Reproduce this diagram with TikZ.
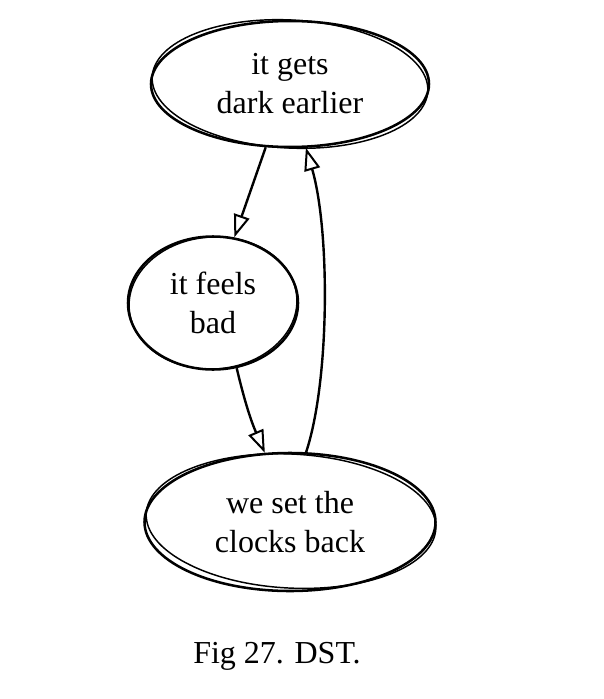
\documentclass[tikz,border=0pt]{standalone}
\usepackage{fontspec}
\setmainfont{Liberation Serif}
\usetikzlibrary{shapes.geometric,arrows.meta}
\begin{document}
\begin{tikzpicture}[x=0.75pt,y=-0.75pt,
  bubble/.style={ellipse,draw=black,line width=1.9pt,inner sep=0pt,align=center,font=\fontsize{24}{29.25}\selectfont},
  sketch/.style={draw=black,line width=1.1pt},
  link/.style={draw=black,line width=1.8pt,-{Triangle[open,length=17pt,width=12pt,line width=1.5pt]}},
  caption/.style={font=\fontsize{24}{29}\selectfont}]
\useasboundingbox (0,0) rectangle (603,699);
\node[bubble,minimum width=278*0.75pt,minimum height=126*0.75pt] (dark) at (290,84) {it gets\\dark earlier};
\node[bubble,minimum width=170*0.75pt,minimum height=133*0.75pt] (feels) at (213,303) {it feels\\bad};
\node[bubble,minimum width=291*0.75pt,minimum height=138*0.75pt] (clocks) at (290,522) {we set the\\clocks back};
% sketchy second strokes
\draw[sketch,rotate around={-3:(290,84)}] (290,84) ellipse [x radius=138, y radius=64];
\draw[sketch,rotate around={4:(213,303)}] (213,303) ellipse [x radius=84, y radius=66];
\draw[sketch,rotate around={-3:(290,522)}] (291,521) ellipse [x radius=145, y radius=67];
\draw[link] (dark.249) -- (feels.72);
\draw[link] (feels.-70) to[bend right=5] (clocks.110);
\draw[link] (clocks.77) .. controls (330,380) and (330,230) .. (dark.-76);
\node[caption] (cap) at (277,656) {Fig 27. DST.};
\end{tikzpicture}
\end{document}
